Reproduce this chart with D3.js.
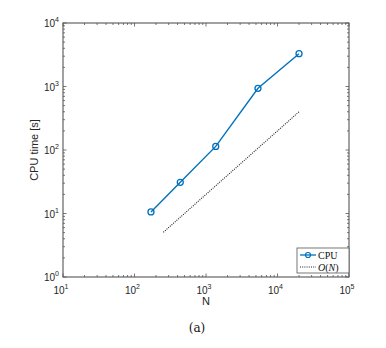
<!DOCTYPE html>
<html><head><meta charset="utf-8">
<script src="https://cdn.jsdelivr.net/npm/d3@7"></script>
<style>body{margin:0;background:#fff}svg{display:block}</style>
</head><body>
<script>
const N_values = [170, 437, 1368, 5335, 20000];
const cpuTime = [10.6, 31, 114, 937, 3285];
const refN = [253, 20000];
const refTime = [5.06, 400];
const xTickExps = [1, 2, 3, 4, 5];
const yTickExps = [0, 1, 2, 3, 4];

const W = 386, H = 348;
const svg = d3.select("body").append("svg").attr("width", W).attr("height", H);
const L = 63, R = 349, T = 23, B = 277;
const x = d3.scaleLog().domain([10, 1e5]).range([L, R]);
const y = d3.scaleLog().domain([1, 1e4]).range([B, T]);
const axisCol = "#555";
const g = svg.append("g");

const minorX = [], minorY = [];
for (let e = 1; e < 5; e++) for (let k = 2; k <= 9; k++) minorX.push(k * Math.pow(10, e));
for (let e = 0; e < 4; e++) for (let k = 2; k <= 9; k++) minorY.push(k * Math.pow(10, e));
const tk = g.append("g").attr("stroke", axisCol).attr("stroke-width", 0.8);
minorX.forEach(v => {
  tk.append("line").attr("x1", x(v)).attr("x2", x(v)).attr("y1", B).attr("y2", B - 2);
  tk.append("line").attr("x1", x(v)).attr("x2", x(v)).attr("y1", T).attr("y2", T + 2);
});
minorY.forEach(v => {
  tk.append("line").attr("y1", y(v)).attr("y2", y(v)).attr("x1", L).attr("x2", L + 2);
  tk.append("line").attr("y1", y(v)).attr("y2", y(v)).attr("x1", R).attr("x2", R - 2);
});
xTickExps.forEach(e => {
  const v = Math.pow(10, e);
  tk.append("line").attr("x1", x(v)).attr("x2", x(v)).attr("y1", B).attr("y2", B - 3.5);
  tk.append("line").attr("x1", x(v)).attr("x2", x(v)).attr("y1", T).attr("y2", T + 3.5);
});
yTickExps.forEach(e => {
  const v = Math.pow(10, e);
  tk.append("line").attr("y1", y(v)).attr("y2", y(v)).attr("x1", L).attr("x2", L + 3.5);
  tk.append("line").attr("y1", y(v)).attr("y2", y(v)).attr("x1", R).attr("x2", R - 3.5);
});
g.append("rect").attr("x", L).attr("y", T).attr("width", R - L).attr("height", B - T)
  .attr("fill", "none").attr("stroke", axisCol).attr("stroke-width", 1.1);

const font = "Liberation Sans, Arial, sans-serif";
const txtCol = "#262626";
xTickExps.forEach(e => {
  const t = svg.append("text").attr("x", x(Math.pow(10, e)) - 2).attr("y", B + 17)
    .attr("text-anchor", "middle").attr("font-family", font).attr("font-size", 10).attr("fill", txtCol);
  t.append("tspan").text("10");
  t.append("tspan").attr("dy", -5).attr("font-size", 7).text(e);
});
yTickExps.forEach(e => {
  const t = svg.append("text").attr("x", L - 4).attr("y", y(Math.pow(10, e)) + 4)
    .attr("text-anchor", "end").attr("font-family", font).attr("font-size", 10).attr("fill", txtCol);
  t.append("tspan").text("10");
  t.append("tspan").attr("dy", -5).attr("font-size", 7).text(e);
});
svg.append("text").attr("x", (L + R) / 2).attr("y", B + 28).attr("text-anchor", "middle")
  .attr("font-family", font).attr("font-size", 11).attr("fill", txtCol).text("N");
svg.append("text").attr("transform", `translate(38,${(T + B) / 2}) rotate(-90)`).attr("text-anchor", "middle")
  .attr("font-family", font).attr("font-size", 11).attr("fill", txtCol).text("CPU time [s]");
svg.append("text").attr("x", 197).attr("y", 332).attr("text-anchor", "middle")
  .attr("font-family", "DejaVu Serif, serif").attr("font-size", 12).attr("fill", "#111").text("(a)");

const line = d3.line().x(d => x(d[0])).y(d => y(d[1]));
svg.append("path").datum(refN.map((n, i) => [n, refTime[i]])).attr("d", line)
  .attr("fill", "none").attr("stroke", "#222").attr("stroke-width", 1.1).attr("stroke-dasharray", "1,1.2");
const blue = "#0072BD";
const data = N_values.map((n, i) => [n, cpuTime[i]]);
svg.append("path").datum(data).attr("d", line).attr("fill", "none").attr("stroke", blue).attr("stroke-width", 1.4);
svg.selectAll("circle.pt").data(data).enter().append("circle").attr("class", "pt")
  .attr("cx", d => x(d[0])).attr("cy", d => y(d[1])).attr("r", 3)
  .attr("fill", "none").attr("stroke", blue).attr("stroke-width", 1.3);

const serif = "Liberation Serif, Times New Roman, serif";
const lg = svg.append("g");
lg.append("rect").attr("x", 297).attr("y", 248).attr("width", 52).attr("height", 25)
  .attr("fill", "#fff").attr("stroke", axisCol).attr("stroke-width", 0.8);
lg.append("line").attr("x1", 300).attr("x2", 316).attr("y1", 255).attr("y2", 255).attr("stroke", blue).attr("stroke-width", 1.3);
lg.append("circle").attr("cx", 308).attr("cy", 255).attr("r", 2.5).attr("fill", "none").attr("stroke", blue).attr("stroke-width", 1.2);
lg.append("text").attr("x", 318).attr("y", 258.5).attr("font-family", serif).attr("font-size", 10).attr("fill", "#111").text("CPU");
lg.append("line").attr("x1", 300).attr("x2", 316).attr("y1", 267).attr("y2", 267).attr("stroke", "#222").attr("stroke-width", 1).attr("stroke-dasharray", "1,1.2");
const ot = lg.append("text").attr("x", 318).attr("y", 270.5).attr("font-family", serif).attr("font-size", 10).attr("fill", "#111");
ot.append("tspan").attr("font-style", "italic").text("O");
ot.append("tspan").text("(");
ot.append("tspan").attr("font-style", "italic").text("N");
ot.append("tspan").text(")");
</script>
</body></html>
